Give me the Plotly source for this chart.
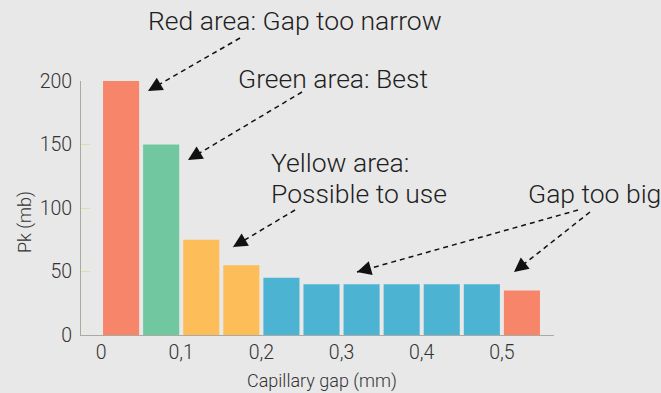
import plotly.graph_objects as go

# ---- data ----
gap_mm = [0.025, 0.075, 0.125, 0.175, 0.225, 0.275, 0.325, 0.375, 0.425, 0.475, 0.525]
pk_mb = [200, 150, 75, 55, 45, 40, 40, 40, 40, 40, 35]
zones = ["red", "green", "yellow", "yellow", "blue", "blue", "blue", "blue", "blue", "blue", "red"]
tick_vals = [0, 0.1, 0.2, 0.3, 0.4, 0.5]
tick_text = ["0", "0,1", "0,2", "0,3", "0,4", "0,5"]

zone_colors = {"red": "#F7856A", "green": "#70C7A0", "yellow": "#FDBD59", "blue": "#4DB3D2"}

W, H = 661, 393
L, R, T, B = 81, 554, 81, 335  # plot area in pixels


def px(xp, yp):
    return (xp - L) / (R - L), (B - yp) / (B - T)


FONT = "Roboto"
fig = go.Figure(
    go.Bar(
        x=gap_mm,
        y=pk_mb,
        width=0.045,
        marker=dict(color=[zone_colors[z] for z in zones], line=dict(width=0)),
        hoverinfo="x+y",
    )
)

fig.update_layout(
    width=W,
    height=H,
    margin=dict(l=L, r=W - R, t=T, b=H - B),
    paper_bgcolor="#E8E8E8",
    plot_bgcolor="#E8E8E8",
    showlegend=False,
    font=dict(family=FONT, size=19.5, color="#333333", weight=300),
    xaxis=dict(
        range=[-0.025, 0.565],
        tickvals=tick_vals,
        ticktext=tick_text,
        showgrid=False,
        zeroline=False,
        showline=True,
        linecolor="#AAAAA0",
        linewidth=1,
        ticks="",
        tickfont=dict(size=19.5),
        automargin=False,
    ),
    yaxis=dict(
        range=[0, 200],
        tickvals=[0, 50, 100, 150, 200],
        showgrid=False,
        zeroline=False,
        showline=True,
        linecolor="#AAAAA0",
        linewidth=1,
        ticks="inside",
        ticklen=9,
        tickcolor="#DDE0A8",
        tickfont=dict(size=19.5),
        ticklabelstandoff=4,
        automargin=False,
    ),
)

# axis titles
x0, y0 = px(25, 222)
fig.add_annotation(x=x0, y=y0, xref="paper", yref="paper", text="Pk (mb)", showarrow=False,
                   textangle=-90, font=dict(size=18, color="#333333"), xanchor="center", yanchor="middle")
x0, y0 = px(322, 381)
fig.add_annotation(x=x0, y=y0, xref="paper", yref="paper", text="Capillary gap (mm)", showarrow=False,
                   font=dict(size=18, color="#333333"), xanchor="center", yanchor="middle")

# text labels
labels = [
    ("Red area: Gap too narrow", 146, 21),
    ("Green area: Best", 236, 78),
    ("Yellow area:", 269, 162),
    ("Possible to use", 269, 193),
    ("Gap too big", 526, 193),
]
for txt, xp, yp in labels:
    xx, yy = px(xp, yp)
    fig.add_annotation(x=xx, y=yy, xref="paper", yref="paper", text=txt, showarrow=False,
                       xanchor="left", yanchor="middle", align="left",
                       font=dict(size=26.5, color="#1E1E1E"))

# dashed arrows: (tail x, tail y, tip x, tip y) in pixels
arrows = [
    (240, 38, 148, 91),
    (302, 92, 188, 160),
    (295, 210, 233, 247),
    (578, 210, 357, 272),
    (590, 212, 514, 272),
]
for tx, ty, hx, hy in arrows:
    ax0, ay0 = px(tx, ty)
    ax1, ay1 = px(hx, hy)
    fig.add_shape(type="line", xref="paper", yref="paper", x0=ax0, y0=ay0, x1=ax1, y1=ay1,
                  line=dict(color="#111111", width=1.5, dash="5px,4px"))
    dx, dy = tx - hx, ty - hy
    n = (dx * dx + dy * dy) ** 0.5
    fig.add_annotation(x=ax1, y=ay1, xref="paper", yref="paper", text="", showarrow=True,
                       ax=dx / n * 14, ay=dy / n * 14, arrowhead=2, arrowsize=1.9, arrowwidth=1.5,
                       arrowcolor="#111111")

fig.write_html("out.html")
